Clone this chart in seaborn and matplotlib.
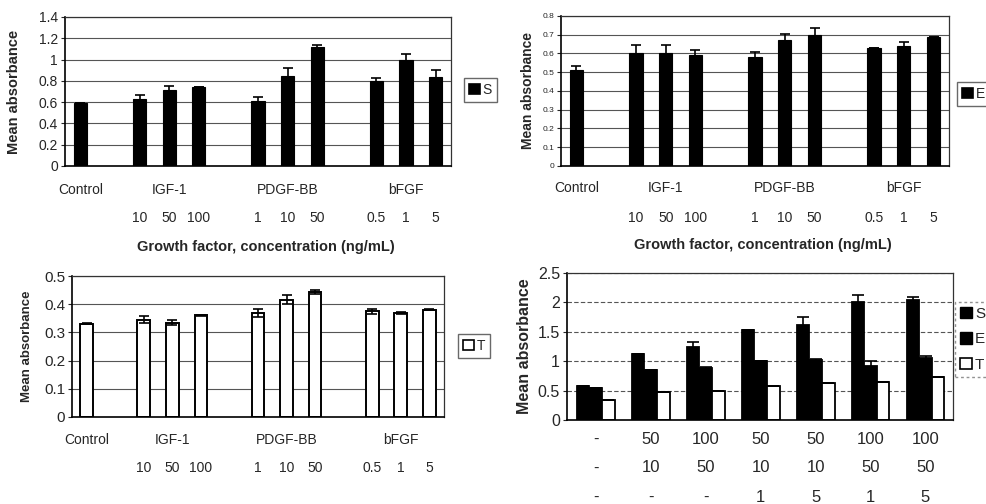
import numpy as np
import pandas as pd
import matplotlib
matplotlib.use('agg')
import matplotlib.pyplot as plt
from matplotlib.patches import Patch
import seaborn as sns

# single growth factor panels (S, E, T)
groups = ["Control", "IGF-1", "PDGF-BB", "bFGF"]
concentrations = [[""], ["10", "50", "100"], ["1", "10", "50"], ["0.5", "1", "5"]]

s_means = [0.59, 0.63, 0.71, 0.74, 0.61, 0.85, 1.12, 0.80, 1.00, 0.84]
s_errs = [0.0, 0.04, 0.04, 0.0, 0.035, 0.07, 0.02, 0.025, 0.055, 0.065]
e_means = [0.51, 0.60, 0.60, 0.59, 0.58, 0.67, 0.70, 0.63, 0.64, 0.69]
e_errs = [0.025, 0.045, 0.045, 0.03, 0.03, 0.033, 0.035, 0.0, 0.022, 0.0]
t_means = [0.331, 0.345, 0.335, 0.36, 0.37, 0.416, 0.443, 0.375, 0.369, 0.38]
t_errs = [0.002, 0.012, 0.009, 0.002, 0.014, 0.016, 0.006, 0.008, 0.004, 0.002]

# combination panel
combo_igf = ["-", "50", "100", "50", "50", "100", "100"]
combo_pdgf = ["-", "10", "50", "10", "10", "50", "50"]
combo_bfgf = ["-", "-", "-", "1", "5", "1", "5"]
combo_s = [0.58, 1.12, 1.25, 1.53, 1.61, 2.01, 2.04]
combo_s_err = [0.0, 0.0, 0.07, 0.0, 0.15, 0.12, 0.05]
combo_e = [0.545, 0.85, 0.88, 1.0, 1.02, 0.92, 1.05]
combo_e_err = [0.0, 0.0, 0.02, 0.0, 0.02, 0.08, 0.03]
combo_t = [0.34, 0.48, 0.50, 0.58, 0.63, 0.65, 0.73]
combo_t_err = [0.0, 0.0, 0.0, 0.0, 0.0, 0.0, 0.0]

sns.set_style("white")
plt.rcParams['font.family'] = ['Liberation Sans', 'DejaVu Sans']

W, H = 987, 504
fig = plt.figure(figsize=(W / 100, H / 100), dpi=100)


def px_axes(x0, y0, x1, y1):
    return fig.add_axes([x0 / W, 1 - y1 / H, (x1 - x0) / W, (y1 - y0) / H])


# slot positions with one empty slot between groups
positions, conc_labels, group_centers = [], [], []
p = 0
for g, concs in zip(groups, concentrations):
    start = p
    for c in concs:
        positions.append(p)
        conc_labels.append(c)
        p += 1
    group_centers.append((start + p - 1) / 2)
    p += 1


def style_axes(ax, ymax, ystep, tick_size, grid_ls='-'):
    ax.set_ylim(0, ymax)
    ax.set_yticks(np.arange(0, ymax + 1e-9, ystep))
    ax.yaxis.set_major_formatter(matplotlib.ticker.FuncFormatter(lambda v, _: f"{v:g}"))
    ax.tick_params(axis='y', labelsize=tick_size, length=3, width=0.8, direction='out', left=True, pad=2)
    ax.set_xticks([])
    ax.set_axisbelow(True)
    ax.grid(axis='y', color='#555555', lw=0.8, ls=grid_ls)
    for side in ['top', 'right']:
        ax.spines[side].set_color('#333333')
        ax.spines[side].set_linewidth(0.9)
    for side in ['left', 'bottom']:
        ax.spines[side].set_color('black')
        ax.spines[side].set_linewidth(1.2)


def row_text(ax, xs, labels, dy_px, size):
    for x, lab in zip(xs, labels):
        ax.annotate(lab, xy=(x, 0), xycoords=ax.get_xaxis_transform(),
                    xytext=(0, -dy_px * 0.72), textcoords='offset points',
                    ha='center', va='center', fontsize=size)


def add_errorbars(ax, container, errs, cap):
    xs = [b.get_x() + b.get_width() / 2 for b in container]
    ys = [b.get_height() for b in container]
    ax.errorbar(xs, ys, yerr=errs, fmt='none', ecolor='black', elinewidth=1.2,
                capsize=cap, capthick=1.2, zorder=5)


def single_panel(box, means, errs, face, ymax, ystep, tick_size, label_x, label_size,
                 rows, legend_label, legend_xy, xlabel=True):
    ax = px_axes(*box)
    df = pd.DataFrame({"pos": positions, "mean": means})
    sns.barplot(data=df, x="pos", y="mean", native_scale=True, width=0.45,
                color=face, edgecolor='black', linewidth=1.4 if face == 'white' else 0.8,
                errorbar=None, ax=ax, saturation=1)
    add_errorbars(ax, ax.containers[0], errs, 3.5)
    ax.set_xlim(-0.52, positions[-1] + 0.52)
    style_axes(ax, ymax, ystep, tick_size)
    ax.set_ylabel("Mean absorbance", fontsize=label_size, fontweight='bold')
    ax.yaxis.set_label_coords(label_x, 0.5)
    ax.set_xlabel("")
    row_text(ax, group_centers, groups, rows[0], 10)
    row_text(ax, positions, conc_labels, rows[1], 10)
    if xlabel:
        ax.annotate("Growth factor, concentration (ng/mL)", xy=(0.52, 0),
                    xycoords='axes fraction', xytext=(0, -rows[2] * 0.72),
                    textcoords='offset points', ha='center', va='center',
                    fontsize=10.5, fontweight='bold')
    handle = Patch(facecolor=face, edgecolor='black', linewidth=1.2)
    fig.legend([handle], [legend_label], loc='upper left',
               bbox_to_anchor=(legend_xy[0] / W, 1 - legend_xy[1] / H),
               fontsize=10, frameon=True, fancybox=False, edgecolor='#444444',
               handlelength=0.8, handleheight=0.8, handletextpad=0.2,
               borderpad=0.35, borderaxespad=0)
    return ax


single_panel((65, 17, 451, 166), s_means, s_errs, 'black', 1.4, 0.2, 10, -0.114, 10.5,
             (24, 52, 81), "S", (464, 78))
single_panel((561, 16, 949, 166), e_means, e_errs, 'black', 0.8, 0.1, 6, -0.067, 10,
             (22, 52, 79), "E", (957, 82))
single_panel((72, 276, 444, 417), t_means, t_errs, 'white', 0.5, 0.1, 11, -0.105, 9.5,
             (23, 51, 0), "T", (458, 334), xlabel=False)

# combination panel
ax4 = px_axes(567, 273, 953, 420)
n = len(combo_s)
combo_df = pd.DataFrame({
    "combo": np.tile(np.arange(n), 3),
    "cell": np.repeat(["S", "E", "T"], n),
    "mean": combo_s + combo_e + combo_t,
})
sns.barplot(data=combo_df, x="combo", y="mean", hue="cell", hue_order=["S", "E", "T"],
            palette={"S": "black", "E": "black", "T": "white"}, width=0.69, gap=0,
            edgecolor='black', linewidth=1.3, errorbar=None, legend=False, ax=ax4, saturation=1)
for cont, errs in zip(ax4.containers, [combo_s_err, combo_e_err, combo_t_err]):
    add_errorbars(ax4, cont, errs, 4)
ax4.set_xlim(-0.52, n - 0.5)
style_axes(ax4, 2.5, 0.5, 11.5, grid_ls=(0, (4, 2)))
ax4.set_ylabel("Mean absorbance", fontsize=11.5, fontweight='bold')
ax4.yaxis.set_label_coords(-0.091, 0.5)
ax4.set_xlabel("")
xs = np.arange(n)
row_text(ax4, xs, combo_igf, 19, 12)
row_text(ax4, xs, combo_pdgf, 48, 12)
row_text(ax4, xs, combo_bfgf, 77, 12)

combo_handles = [Patch(facecolor='black', edgecolor='black'),
                 Patch(facecolor='black', edgecolor='black'),
                 Patch(facecolor='white', edgecolor='black', linewidth=1.2)]
leg = fig.legend(combo_handles, ["S", "E", "T"], loc='upper left',
                 bbox_to_anchor=(955 / W, 1 - 302 / H), fontsize=11, frameon=True,
                 fancybox=False, edgecolor='#777777', handlelength=0.8, handleheight=0.8,
                 handletextpad=0.2, labelspacing=0.75, borderpad=0.3, borderaxespad=0)
leg.get_frame().set_linestyle((0, (2, 2)))

fig.savefig("out.png", dpi=100)
